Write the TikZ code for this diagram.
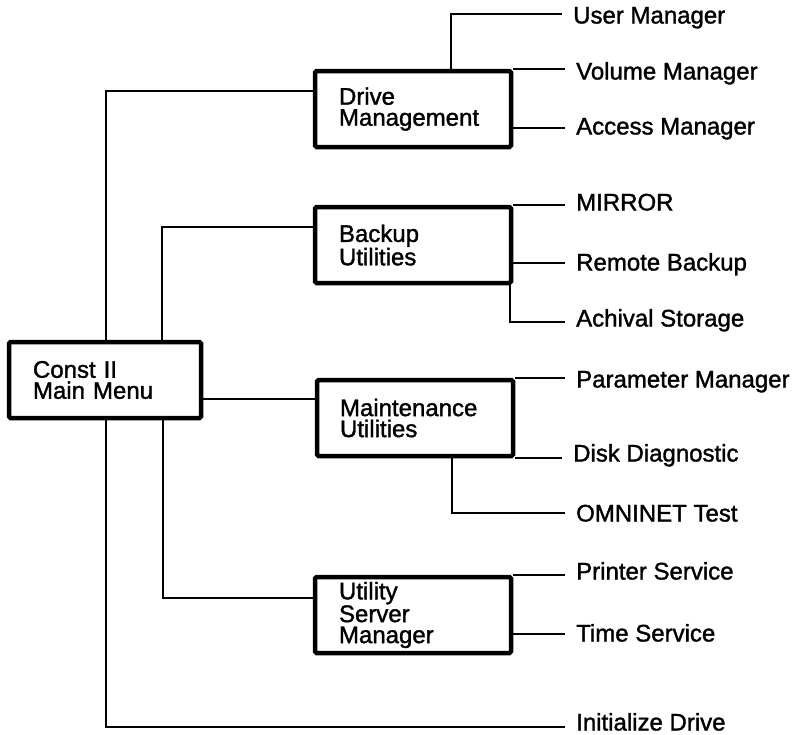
\documentclass[tikz,border=0pt]{standalone}
\usepackage{fontspec}
\setmainfont{Liberation Sans}[FakeBold=1.4]
\usetikzlibrary{calc}
\begin{document}
\begin{tikzpicture}[x=1pt,y=-1pt,
  menubox/.style={draw, line width=4.5pt, rounded corners=1.5pt, fill=white,
    minimum height=76pt, text width=148pt, inner xsep=24pt, inner ysep=0pt,
    align=left, font=\fontsize{24}{21}\selectfont},
  leaf/.style={anchor=west, inner xsep=11pt, inner ysep=0pt,
    text height=17pt, text depth=0pt, font=\fontsize{24}{21}\selectfont},
  link/.style={line width=2.4pt}]
\useasboundingbox (0,0) rectangle (795,734);

% menu boxes
\node[menubox, text width=144pt] (main) at (105,380) {Const II\\Main Menu};
\node[menubox] (dm) at (413,109) {Drive\\Management};
\node[menubox] (bu) at (413,245) {Backup\\Utilities};
\node[menubox, text width=150pt, inner xsep=23pt] (mu) at (415,418) {Maintenance\\Utilities};
\node[menubox] (us) at (413,615) {Utility\\Server\\Manager};

% leaf entries
\node[leaf, xshift=-3pt] (um) at (565,15) {User Manager};
\node[leaf] (vm) at (565,71) {Volume Manager};
\node[leaf] (am) at (565,126) {Access Manager};
\node[leaf] (mi) at (565,202) {MIRROR};
\node[leaf] (rb) at (565,262) {Remote Backup};
\node[leaf] (as) at (565,318) {Achival Storage};
\node[leaf] (pm) at (565,379) {Parameter Manager};
\node[leaf, xshift=-3pt] (dd) at (565,453) {Disk Diagnostic};
\node[leaf] (ot) at (565,513) {OMNINET Test};
\node[leaf] (ps) at (565,571) {Printer Service};
\node[leaf] (ts) at (565,633) {Time Service};
\node[leaf] (id) at (565,722) {Initialize Drive};

% bend points of the connectors
\coordinate (kDrive) at (106,91);
\coordinate (kBackup) at (162,227);
\coordinate (kMaint) at (250,399);
\coordinate (kServer) at (163,598);
\coordinate (kInit) at (106,727);
\coordinate (kUser) at (451,14);
\coordinate (kAccess) at (540,128);
\coordinate (kRemote) at (540,263);
\coordinate (kArch) at (510,322);
\coordinate (kOmni) at (452,513);
\coordinate (kTime) at (540,634);

% main menu to sub-menus
\draw[link] (main.north -| kDrive) |- (dm.west |- kDrive);
\draw[link] (main.north -| kBackup) |- (bu.west |- kBackup);
\draw[link] (main.east |- kMaint) -- (mu.west |- kMaint);
\draw[link] (main.south -| kServer) |- (us.west |- kServer);
\draw[link] (main.south -| kInit) |- (id.west |- kInit);

% sub-menus to entries
\draw[link] (dm.north -| kUser) |- (um.west |- kUser);
\draw[link] (dm.north east) -- (vm.west |- dm.north east);
\draw[link] (dm.east |- kAccess) -- (am.west |- kAccess);
\draw[link] (bu.north east) -- (mi.west |- bu.north east);
\draw[link] (bu.east |- kRemote) -- (rb.west |- kRemote);
\draw[link] (bu.south -| kArch) |- (as.west |- kArch);
\draw[link] (mu.north east) -- (pm.west |- mu.north east);
\draw[link] (mu.south east) -- (dd.west |- mu.south east);
\draw[link] (mu.south -| kOmni) |- (ot.west |- kOmni);
\draw[link] (us.north east) -- (ps.west |- us.north east);
\draw[link] (us.east |- kTime) -- (ts.west |- kTime);
\end{tikzpicture}
\end{document}
